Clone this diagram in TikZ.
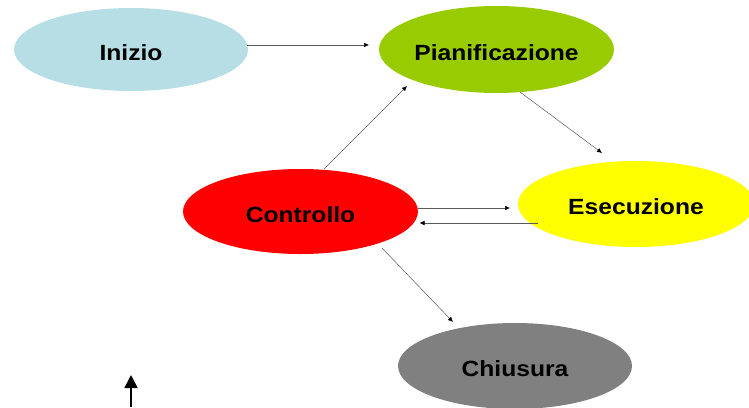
\documentclass[tikz,border=0pt]{standalone}
\usepackage{fontspec}
\setmainfont{Liberation Sans}
\usetikzlibrary{arrows.meta,shapes.geometric,calc}
\definecolor{cInizio}{RGB}{183,222,228}
\definecolor{cPian}{RGB}{153,204,0}
\definecolor{cCtrl}{RGB}{255,0,0}
\definecolor{cEse}{RGB}{255,255,0}
\definecolor{cChiu}{RGB}{128,128,128}
\newcommand{\phasetext}[1]{\raisebox{-10.5pt}[0pt][0pt]{\makebox[0pt]{\scalebox{1.12}[1]{\fontsize{22}{26}\selectfont\bfseries #1}}}}
\tikzset{
  phase/.style={ellipse, draw=none, inner sep=0pt},
  conn/.style={draw=black!65, line width=0.5pt, -{Latex[length=5pt,width=4.5pt,color=black]}},
  bigarrow/.style={draw=black, line width=1.6pt, -{Triangle[length=13pt,width=13pt]}},
}
\begin{document}
\begin{tikzpicture}[x=1pt,y=-1pt]
\useasboundingbox (0,0) rectangle (749,407);
\node[phase, fill=cInizio, minimum width=234pt, minimum height=83pt] (ini) at (131,49.5) {\phasetext{Inizio}};
\node[phase, fill=cPian, minimum width=235pt, minimum height=87pt] (pian) at (496.5,49.5) {\phasetext{Pianificazione}};
\node[phase, fill=cCtrl, minimum width=235pt, minimum height=85pt] (ctrl) at (300.5,211.5) {\phasetext{Controllo}};
\node[phase, fill=cEse, minimum width=236pt, minimum height=86pt] (ese) at (636,204) {\phasetext{Esecuzione}};
\node[phase, fill=cChiu, minimum width=234pt, minimum height=86pt] (chiu) at (515,366) {\phasetext{Chiusura}};
\coordinate (lowA) at (131,407);
\coordinate (lowB) at (131,375);

\draw[conn] ($(ini.center)+(116,-4.5)$) -- ($(pian.center)+(-127.5,-4.5)$);
\draw[conn] ($(ctrl.center)+(23.5,-42.5)$) -- ($(pian.center)+(-89.5,36.5)$);
\draw[conn] ($(pian.center)+(23.5,42.5)$) -- ($(ese.center)+(-34,-51)$);
\draw[conn] ($(ctrl.center)+(117,-3.5)$) -- ($(ese.center)+(-126,4)$);
\draw[conn] ($(ese.center)+(-98,19)$) -- ($(ctrl.center)+(119,11.5)$);
\draw[conn] ($(ctrl.center)+(81.5,36.5)$) -- ($(chiu.center)+(-62,-44)$);
\draw[bigarrow] (lowA) -- (lowB);
\end{tikzpicture}
\end{document}
